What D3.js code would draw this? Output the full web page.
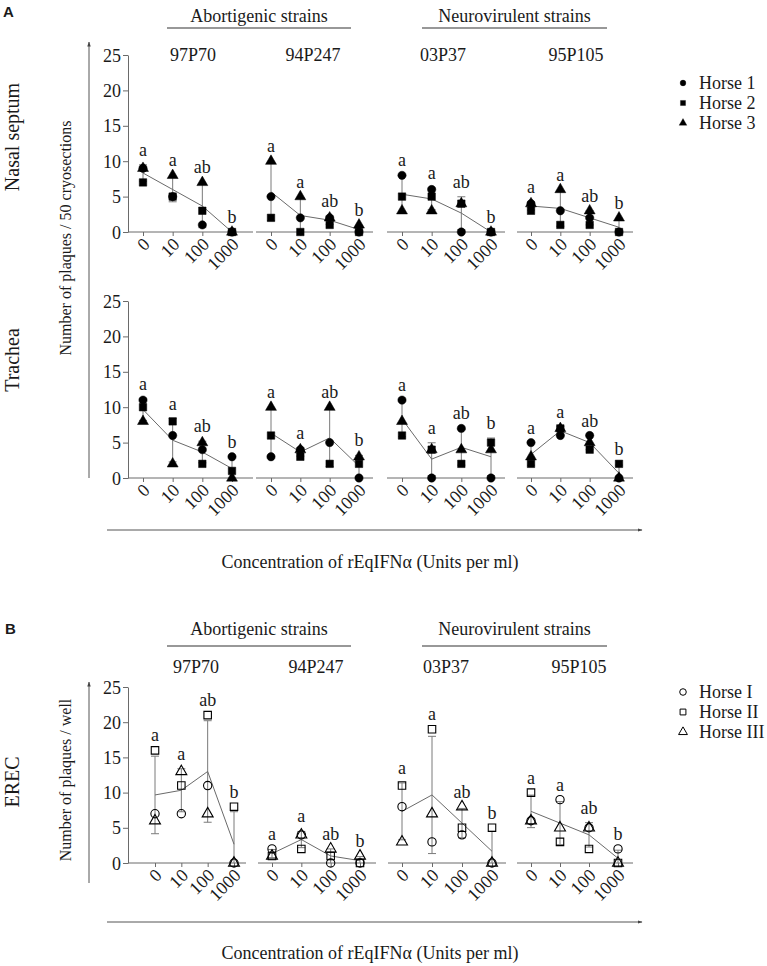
<!DOCTYPE html>
<html><head><meta charset="utf-8">
<script src="https://cdn.jsdelivr.net/npm/d3@7"></script>
<style>
body{margin:0;background:#fff}
svg text{font-family:"Liberation Serif","Times New Roman",serif;fill:#1a1a1a}
</style>
</head><body>
<svg id="c" width="767" height="966"></svg>
<script>
// ---------- data ----------
const concentrations = ["0","10","100","1000"];
const strains = ["97P70","94P247","03P37","95P105"];
const groups = ["Abortigenic strains","Neurovirulent strains"];
const yTicks = [0,5,10,15,20,25];
const letters = ["a","a","ab","b"];
const horsesA = ["Horse 1","Horse 2","Horse 3"];
const horsesB = ["Horse I","Horse II","Horse III"];

// values per strain (row) and concentration (column)
const nasalHorse1 = [[9,5,1,0],[5,2,2,0],[8,6,0,0],[4,3,2,0]];
const nasalHorse2 = [[7,5,3,0],[2,0,1,0],[5,5,4,0],[3,1,1,0]];
const nasalHorse3 = [[9,8,7,0],[10,5,2,1],[3,3,4,0],[4,6,3,2]];

const tracheaHorse1 = [[11,6,4,3],[3,4,5,0],[11,0,7,0],[5,6,6,0]];
const tracheaHorse2 = [[10,8,2,1],[6,3,2,2],[6,4,2,5],[2,7,4,2]];
const tracheaHorse3 = [[8,2,5,0],[10,4,10,3],[8,4,4,4],[3,7,5,0]];

const erecHorseI   = [[7,7,11,0],[2,4,0,0],[8,3,4,0],[6,9,5,2]];
const erecHorseII  = [[16,11,21,8],[1,2,1,0],[11,19,5,5],[10,3,2,0]];
const erecHorseIII = [[6,13,7,0],[1,4,2,1],[3,7,8,0],[6,5,5,0]];

// ---------- layout ----------
const FS = 18;
const SERIF = '"Liberation Serif","Times New Roman",serif';
const axisColor = "#6a6a6a";
const svg = d3.select("#c");

const layoutA = [
  {ax:[128,253], pt:[143,232], lx:193},
  {ax:[256,373], pt:[271,359], lx:313},
  {ax:[387,505], pt:[402,491], lx:443},
  {ax:[517,633], pt:[531,619], lx:576}
];
const layoutB = [
  {ax:[128,246], pt:[155,234], lx:196},
  {ax:[258,376], pt:[272,360], lx:316},
  {ax:[388,506], pt:[402,492], lx:446},
  {ax:[517,633], pt:[531,618], lx:579}
];

const symbolTypes = [d3.symbolCircle, d3.symbolSquare, d3.symbolTriangle];
const symbolSizes = [54, 56, 52];
const drawOrder = [2,0,1];

svg.append("defs").append("marker")
  .attr("id","arr").attr("viewBox","0 0 10 10").attr("refX",9).attr("refY",5)
  .attr("markerWidth",5).attr("markerHeight",5).attr("orient","auto")
  .append("path").attr("d","M0,1.5 L10,5 L0,8.5 Z").attr("fill","#444");

function styleAxis(g){
  g.attr("font-family", SERIF);
  g.selectAll("path,line").attr("stroke",axisColor).attr("stroke-width",1);
  g.selectAll("text").style("font-size",FS+"px").style("font-family",SERIF).attr("fill","#1a1a1a");
}

function sampleSD(v){ return d3.deviation(v) || 0; }

function drawRow(y0, y25, layout, series, open){
  const y = d3.scaleLinear().domain([0,25]).range([y0,y25]);
  const gy = svg.append("g").attr("transform",`translate(${layout[0].ax[0]},0)`)
    .call(d3.axisLeft(y).tickValues(yTicks).tickSize(5).tickSizeOuter(0).tickPadding(2));
  styleAxis(gy);
  gy.selectAll(".tick text").attr("dy","0.34em");

  layout.forEach((L,i) => {
    const x = d3.scalePoint().domain(concentrations).range(L.pt);
    svg.append("line").attr("x1",L.ax[0]).attr("x2",L.ax[1]).attr("y1",y0).attr("y2",y0)
      .attr("stroke",axisColor).attr("stroke-width",1);
    const gx = svg.append("g").attr("transform",`translate(0,${y0})`)
      .call(d3.axisBottom(x).tickSize(4).tickSizeOuter(0));
    gx.select(".domain").remove();
    styleAxis(gx);
    gx.selectAll(".tick text").attr("x",0).attr("y",0).attr("dy","0.35em")
      .attr("text-anchor","end").attr("transform","translate(3,9) rotate(-45)");

    const stats = concentrations.map((c,j) => {
      const vals = series.map(s => s[i][j]);
      const m = d3.mean(vals), sd = sampleSD(vals);
      return {c, vals, m, lo: Math.max(0, m-sd), hi: m+sd};
    });

    // error bars (mean ± SD)
    const eb = svg.append("g").attr("stroke","#7a7a7a").attr("stroke-width",1);
    stats.forEach(s => {
      const cx = x(s.c);
      eb.append("line").attr("x1",cx).attr("x2",cx).attr("y1",y(s.lo)).attr("y2",y(s.hi));
      eb.append("line").attr("x1",cx-4).attr("x2",cx+4).attr("y1",y(s.hi)).attr("y2",y(s.hi));
      if (s.lo > 0) eb.append("line").attr("x1",cx-4).attr("x2",cx+4).attr("y1",y(s.lo)).attr("y2",y(s.lo));
    });

    // mean line
    svg.append("path").datum(stats)
      .attr("d", d3.line().x(d => x(d.c)).y(d => y(d.m)))
      .attr("fill","none").attr("stroke","#6a6a6a").attr("stroke-width",1);

    // markers
    drawOrder.forEach(h => {
      svg.append("g").selectAll("path").data(concentrations).join("path")
        .attr("d", d3.symbol().type(symbolTypes[h]).size(symbolSizes[h]))
        .attr("transform", (c,j) => `translate(${x(c)},${y(series[h][i][j])})`)
        .attr("fill", open ? "none" : "#000")
        .attr("stroke", "#000").attr("stroke-width", open ? 1.1 : 0.5);
    });

    // significance letters
    svg.append("g").selectAll("text").data(stats).join("text")
      .attr("x", d => x(d.c))
      .attr("y", d => y(Math.max(d3.max(d.vals), d.hi)) - 9)
      .attr("text-anchor","middle").style("font-size",FS+"px")
      .text((d,j) => letters[j]);
  });
}

function headers(layout, titleY, lineY, strainY){
  const lines = [[167,351],[422,607]];
  groups.forEach((g,k) => {
    const cx = (lines[k][0]+lines[k][1])/2;
    svg.append("text").attr("x",cx).attr("y",titleY).attr("text-anchor","middle")
      .style("font-size",FS+"px").text(g);
    svg.append("line").attr("x1",lines[k][0]).attr("x2",lines[k][1])
      .attr("y1",lineY).attr("y2",lineY).attr("stroke","#333").attr("stroke-width",1.2);
  });
  strains.forEach((s,i) => {
    svg.append("text").attr("x",layout[i].lx).attr("y",strainY).attr("text-anchor","middle")
      .style("font-size",FS+"px").text(s);
  });
}

function legend(names, y0, open){
  names.forEach((n,k) => {
    const yy = y0 + k*20;
    svg.append("path").attr("d", d3.symbol().type(symbolTypes[k]).size(open ? 34 : 26))
      .attr("transform",`translate(683,${yy})`)
      .attr("fill", open ? "none" : "#000").attr("stroke","#000").attr("stroke-width", open ? 1 : 0.3);
    svg.append("text").attr("x",699).attr("y",yy).attr("dy","0.35em")
      .style("font-size",FS+"px").text(n);
  });
}

function vText(t, x, y, fs){
  svg.append("text").attr("transform",`translate(${x},${y}) rotate(-90)`)
    .attr("text-anchor","middle").attr("dy","0.35em").style("font-size",fs+"px").text(t);
}

function arrow(x1,y1,x2,y2){
  svg.append("line").attr("x1",x1).attr("y1",y1).attr("x2",x2).attr("y2",y2)
    .attr("stroke","#555").attr("stroke-width",1).attr("marker-end","url(#arr)");
}

// ---------- Panel A ----------
svg.append("text").attr("x",3).attr("y",17).style("font-family","'Liberation Sans',Arial,sans-serif")
  .style("font-weight","bold").style("font-size","15px").text("A");
headers(layoutA, 22, 28, 61);
drawRow(232, 55, layoutA, [nasalHorse1, nasalHorse2, nasalHorse3], false);
drawRow(478, 301, layoutA, [tracheaHorse1, tracheaHorse2, tracheaHorse3], false);
legend(horsesA, 83, false);
vText("Nasal septum", 12, 137, 20);
vText("Trachea", 12, 360, 20);
vText("Number of plaques / 50 cryosections", 65, 238, 16);
arrow(89, 478, 89, 42);
arrow(107, 530, 642, 530);
svg.append("text").attr("x",370).attr("y",568).attr("text-anchor","middle")
  .style("font-size",FS+"px").text("Concentration of rEqIFNα (Units per ml)");

// ---------- Panel B ----------
svg.append("text").attr("x",5).attr("y",634).style("font-family","'Liberation Sans',Arial,sans-serif")
  .style("font-weight","bold").style("font-size","15px").text("B");
headers(layoutB, 635, 646, 673);
drawRow(863, 687, layoutB, [erecHorseI, erecHorseII, erecHorseIII], true);
legend(horsesB, 692, true);
vText("EREC", 12, 782, 20);
vText("Number of plaques / well", 65, 780, 16);
arrow(89, 883, 89, 682);
arrow(107, 922, 642, 922);
svg.append("text").attr("x",370).attr("y",959).attr("text-anchor","middle")
  .style("font-size",FS+"px").text("Concentration of rEqIFNα (Units per ml)");
</script>
</body></html>
